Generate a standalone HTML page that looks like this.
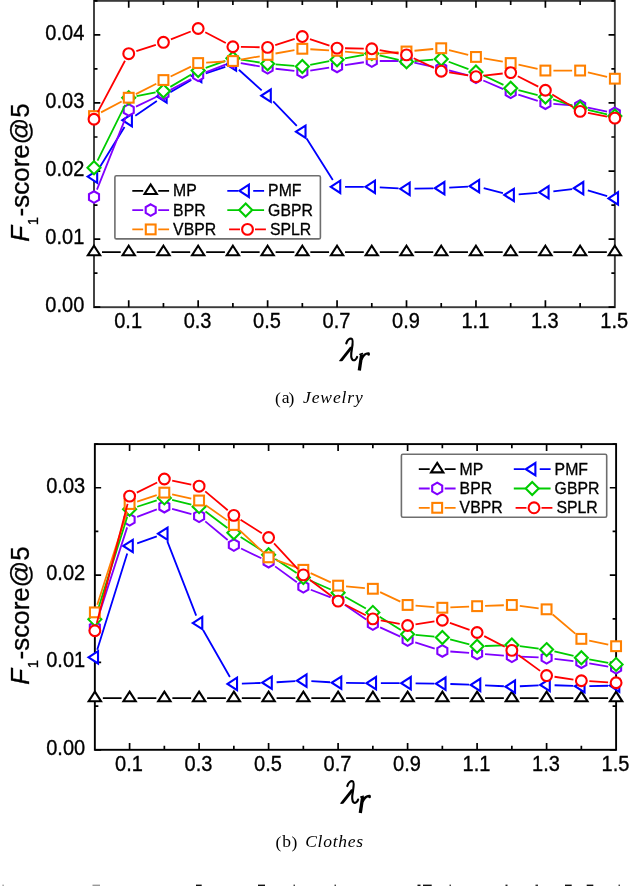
<!DOCTYPE html>
<html><head><meta charset="utf-8"><style>html,body{margin:0;padding:0;background:#fff;width:630px;height:886px;overflow:hidden}svg{display:block;will-change:transform}</style></head>
<body><svg width="630" height="886" viewBox="0 0 630 886">
<style>
.tl{font-family:"Liberation Sans", sans-serif;font-size:21.3px;fill:#000;stroke:#000;stroke-width:0.35px}
.lg{font-family:"Liberation Sans", sans-serif;font-size:15.8px;fill:#000;stroke:#000;stroke-width:0.3px}
.yt{font-family:"Liberation Sans", sans-serif;font-size:26px;fill:#000;stroke:#000;stroke-width:0.3px}
.lam{font-family:"Liberation Sans", sans-serif;font-size:32px;font-style:italic;fill:#000}
.lamr{font-family:"Liberation Sans", sans-serif;font-size:25px;font-style:italic;font-weight:bold;fill:#000}
.cap{font-family:"Liberation Serif", serif;font-size:17.5px;fill:#000}
</style>
<rect width="630" height="886" fill="#fff"/>
<rect x="94.00" y="0.85" width="520.85" height="306.35" fill="none" stroke="#3a3a3a" stroke-width="1.9"/>
<path d="M128.72 307.20V300.30M128.72 0.85V7.75M163.45 307.20V303.10M163.45 0.85V4.95M198.17 307.20V300.30M198.17 0.85V7.75M232.89 307.20V303.10M232.89 0.85V4.95M267.62 307.20V300.30M267.62 0.85V7.75M302.34 307.20V303.10M302.34 0.85V4.95M337.06 307.20V300.30M337.06 0.85V7.75M371.79 307.20V303.10M371.79 0.85V4.95M406.51 307.20V300.30M406.51 0.85V7.75M441.23 307.20V303.10M441.23 0.85V4.95M475.96 307.20V300.30M475.96 0.85V7.75M510.68 307.20V303.10M510.68 0.85V4.95M545.40 307.20V300.30M545.40 0.85V7.75M580.13 307.20V303.10M580.13 0.85V4.95M94.00 307.20H100.30M614.85 307.20H608.55M94.00 273.16H97.50M614.85 273.16H611.35M94.00 239.12H100.30M614.85 239.12H608.55M94.00 205.08H97.50M614.85 205.08H611.35M94.00 171.04H100.30M614.85 171.04H608.55M94.00 137.01H97.50M614.85 137.01H611.35M94.00 102.97H100.30M614.85 102.97H608.55M94.00 68.93H97.50M614.85 68.93H611.35M94.00 34.89H100.30M614.85 34.89H608.55M94.00 0.85H97.50M614.85 0.85H611.35" stroke="#000" stroke-width="1.7" fill="none"/>
<text transform="translate(84.30 312.20) scale(0.94 1)" text-anchor="end" class="tl">0.00</text>
<text transform="translate(84.30 244.12) scale(0.94 1)" text-anchor="end" class="tl">0.01</text>
<text transform="translate(84.30 176.04) scale(0.94 1)" text-anchor="end" class="tl">0.02</text>
<text transform="translate(84.30 107.97) scale(0.94 1)" text-anchor="end" class="tl">0.03</text>
<text transform="translate(84.30 39.89) scale(0.94 1)" text-anchor="end" class="tl">0.04</text>
<text transform="translate(128.12 327.90) scale(0.94 1)" text-anchor="middle" class="tl">0.1</text>
<text transform="translate(197.57 327.90) scale(0.94 1)" text-anchor="middle" class="tl">0.3</text>
<text transform="translate(267.02 327.90) scale(0.94 1)" text-anchor="middle" class="tl">0.5</text>
<text transform="translate(336.46 327.90) scale(0.94 1)" text-anchor="middle" class="tl">0.7</text>
<text transform="translate(405.91 327.90) scale(0.94 1)" text-anchor="middle" class="tl">0.9</text>
<text transform="translate(475.36 327.90) scale(0.94 1)" text-anchor="middle" class="tl">1.1</text>
<text transform="translate(544.80 327.90) scale(0.94 1)" text-anchor="middle" class="tl">1.3</text>
<text transform="translate(614.25 327.90) scale(0.94 1)" text-anchor="middle" class="tl">1.5</text>
<path d="M102.00 252.10L120.72 252.10M136.72 252.10L155.45 252.10M171.45 252.10L190.17 252.10M206.17 252.10L224.89 252.10M240.89 252.10L259.62 252.10M275.62 252.10L294.34 252.10M310.34 252.10L329.06 252.10M345.06 252.10L363.79 252.10M379.79 252.10L398.51 252.10M414.51 252.10L433.23 252.10M449.23 252.10L467.96 252.10M483.96 252.10L502.68 252.10M518.68 252.10L537.40 252.10M553.40 252.10L572.13 252.10M588.13 252.10L606.85 252.10" stroke="#000000" stroke-width="1.8" fill="none"/>
<path d="M94.00 245.75L100.15 255.28L87.85 255.28Z" stroke="#000000" stroke-width="2.1" fill="#fff" stroke-miterlimit="10"/>
<path d="M128.72 245.75L134.87 255.28L122.57 255.28Z" stroke="#000000" stroke-width="2.1" fill="#fff" stroke-miterlimit="10"/>
<path d="M163.45 245.75L169.60 255.28L157.30 255.28Z" stroke="#000000" stroke-width="2.1" fill="#fff" stroke-miterlimit="10"/>
<path d="M198.17 245.75L204.32 255.28L192.02 255.28Z" stroke="#000000" stroke-width="2.1" fill="#fff" stroke-miterlimit="10"/>
<path d="M232.89 245.75L239.04 255.28L226.74 255.28Z" stroke="#000000" stroke-width="2.1" fill="#fff" stroke-miterlimit="10"/>
<path d="M267.62 245.75L273.77 255.28L261.47 255.28Z" stroke="#000000" stroke-width="2.1" fill="#fff" stroke-miterlimit="10"/>
<path d="M302.34 245.75L308.49 255.28L296.19 255.28Z" stroke="#000000" stroke-width="2.1" fill="#fff" stroke-miterlimit="10"/>
<path d="M337.06 245.75L343.21 255.28L330.91 255.28Z" stroke="#000000" stroke-width="2.1" fill="#fff" stroke-miterlimit="10"/>
<path d="M371.79 245.75L377.94 255.28L365.64 255.28Z" stroke="#000000" stroke-width="2.1" fill="#fff" stroke-miterlimit="10"/>
<path d="M406.51 245.75L412.66 255.28L400.36 255.28Z" stroke="#000000" stroke-width="2.1" fill="#fff" stroke-miterlimit="10"/>
<path d="M441.23 245.75L447.38 255.28L435.08 255.28Z" stroke="#000000" stroke-width="2.1" fill="#fff" stroke-miterlimit="10"/>
<path d="M475.96 245.75L482.11 255.28L469.81 255.28Z" stroke="#000000" stroke-width="2.1" fill="#fff" stroke-miterlimit="10"/>
<path d="M510.68 245.75L516.83 255.28L504.53 255.28Z" stroke="#000000" stroke-width="2.1" fill="#fff" stroke-miterlimit="10"/>
<path d="M545.40 245.75L551.55 255.28L539.25 255.28Z" stroke="#000000" stroke-width="2.1" fill="#fff" stroke-miterlimit="10"/>
<path d="M580.13 245.75L586.28 255.28L573.98 255.28Z" stroke="#000000" stroke-width="2.1" fill="#fff" stroke-miterlimit="10"/>
<path d="M614.85 245.75L621.00 255.28L608.70 255.28Z" stroke="#000000" stroke-width="2.1" fill="#fff" stroke-miterlimit="10"/>
<path d="M98.19 169.81L124.53 126.99M135.32 115.66L156.85 100.90M170.34 92.33L191.27 80.03M205.76 73.45L225.30 66.95M238.84 69.77L261.67 90.35M273.17 101.46L296.79 125.98M306.61 138.51L332.80 180.05M345.06 186.82L363.79 186.82M379.77 187.29L398.52 188.39M414.51 188.70L433.23 188.34M449.22 187.71L467.97 186.61M483.71 188.11L502.93 193.01M518.66 194.36L537.43 192.88M553.35 191.33L572.18 189.11M587.80 190.43L607.17 196.13" stroke="#0000ff" stroke-width="1.8" fill="none"/>
<path d="M87.65 176.62L97.18 170.47L97.18 182.77Z" stroke="#0000ff" stroke-width="2.1" fill="#fff" stroke-miterlimit="10"/>
<path d="M122.37 120.18L131.90 114.03L131.90 126.33Z" stroke="#0000ff" stroke-width="2.1" fill="#fff" stroke-miterlimit="10"/>
<path d="M157.10 96.38L166.62 90.23L166.62 102.53Z" stroke="#0000ff" stroke-width="2.1" fill="#fff" stroke-miterlimit="10"/>
<path d="M191.82 75.98L201.35 69.83L201.35 82.13Z" stroke="#0000ff" stroke-width="2.1" fill="#fff" stroke-miterlimit="10"/>
<path d="M226.54 64.42L236.07 58.27L236.07 70.57Z" stroke="#0000ff" stroke-width="2.1" fill="#fff" stroke-miterlimit="10"/>
<path d="M261.27 95.70L270.79 89.55L270.79 101.85Z" stroke="#0000ff" stroke-width="2.1" fill="#fff" stroke-miterlimit="10"/>
<path d="M295.99 131.74L305.52 125.59L305.52 137.89Z" stroke="#0000ff" stroke-width="2.1" fill="#fff" stroke-miterlimit="10"/>
<path d="M330.71 186.82L340.24 180.67L340.24 192.97Z" stroke="#0000ff" stroke-width="2.1" fill="#fff" stroke-miterlimit="10"/>
<path d="M365.44 186.82L374.96 180.67L374.96 192.97Z" stroke="#0000ff" stroke-width="2.1" fill="#fff" stroke-miterlimit="10"/>
<path d="M400.16 188.86L409.69 182.71L409.69 195.01Z" stroke="#0000ff" stroke-width="2.1" fill="#fff" stroke-miterlimit="10"/>
<path d="M434.88 188.18L444.41 182.03L444.41 194.33Z" stroke="#0000ff" stroke-width="2.1" fill="#fff" stroke-miterlimit="10"/>
<path d="M469.61 186.14L479.13 179.99L479.13 192.29Z" stroke="#0000ff" stroke-width="2.1" fill="#fff" stroke-miterlimit="10"/>
<path d="M504.33 194.98L513.86 188.83L513.86 201.13Z" stroke="#0000ff" stroke-width="2.1" fill="#fff" stroke-miterlimit="10"/>
<path d="M539.05 192.26L548.58 186.11L548.58 198.41Z" stroke="#0000ff" stroke-width="2.1" fill="#fff" stroke-miterlimit="10"/>
<path d="M573.78 188.18L583.30 182.03L583.30 194.33Z" stroke="#0000ff" stroke-width="2.1" fill="#fff" stroke-miterlimit="10"/>
<path d="M608.50 198.38L618.03 192.23L618.03 204.53Z" stroke="#0000ff" stroke-width="2.1" fill="#fff" stroke-miterlimit="10"/>
<path d="M96.96 189.59L125.76 117.41M135.96 106.58L156.21 97.06M170.52 89.92L191.10 79.04M205.62 72.38L225.44 64.62M240.77 63.09L259.74 66.43M275.56 68.75L294.39 70.97M310.24 70.66L329.16 67.70M344.97 65.22L363.88 62.26M379.79 61.02L398.51 61.02M414.33 62.70L433.41 66.82M448.99 70.47L468.20 75.37M483.30 80.51L503.33 89.13M518.31 94.69L537.77 100.79M553.38 103.80L572.15 105.28M587.95 107.58L607.03 111.70" stroke="#8000ff" stroke-width="1.8" fill="none"/>
<path d="M94.00 191.22L99.02 194.12L99.02 199.92L94.00 202.82L88.98 199.92L88.98 194.12Z" stroke="#8000ff" stroke-width="2.1" fill="#fff" stroke-miterlimit="10"/>
<path d="M128.72 104.18L133.75 107.08L133.75 112.88L128.72 115.78L123.70 112.88L123.70 107.08Z" stroke="#8000ff" stroke-width="2.1" fill="#fff" stroke-miterlimit="10"/>
<path d="M163.45 87.86L168.47 90.76L168.47 96.56L163.45 99.46L158.42 96.56L158.42 90.76Z" stroke="#8000ff" stroke-width="2.1" fill="#fff" stroke-miterlimit="10"/>
<path d="M198.17 69.50L203.19 72.40L203.19 78.20L198.17 81.10L193.15 78.20L193.15 72.40Z" stroke="#8000ff" stroke-width="2.1" fill="#fff" stroke-miterlimit="10"/>
<path d="M232.89 55.90L237.92 58.80L237.92 64.60L232.89 67.50L227.87 64.60L227.87 58.80Z" stroke="#8000ff" stroke-width="2.1" fill="#fff" stroke-miterlimit="10"/>
<path d="M267.62 62.02L272.64 64.92L272.64 70.72L267.62 73.62L262.59 70.72L262.59 64.92Z" stroke="#8000ff" stroke-width="2.1" fill="#fff" stroke-miterlimit="10"/>
<path d="M302.34 66.10L307.36 69.00L307.36 74.80L302.34 77.70L297.32 74.80L297.32 69.00Z" stroke="#8000ff" stroke-width="2.1" fill="#fff" stroke-miterlimit="10"/>
<path d="M337.06 60.66L342.09 63.56L342.09 69.36L337.06 72.26L332.04 69.36L332.04 63.56Z" stroke="#8000ff" stroke-width="2.1" fill="#fff" stroke-miterlimit="10"/>
<path d="M371.79 55.22L376.81 58.12L376.81 63.92L371.79 66.82L366.76 63.92L366.76 58.12Z" stroke="#8000ff" stroke-width="2.1" fill="#fff" stroke-miterlimit="10"/>
<path d="M406.51 55.22L411.53 58.12L411.53 63.92L406.51 66.82L401.49 63.92L401.49 58.12Z" stroke="#8000ff" stroke-width="2.1" fill="#fff" stroke-miterlimit="10"/>
<path d="M441.23 62.70L446.26 65.60L446.26 71.40L441.23 74.30L436.21 71.40L436.21 65.60Z" stroke="#8000ff" stroke-width="2.1" fill="#fff" stroke-miterlimit="10"/>
<path d="M475.96 71.54L480.98 74.44L480.98 80.24L475.96 83.14L470.93 80.24L470.93 74.44Z" stroke="#8000ff" stroke-width="2.1" fill="#fff" stroke-miterlimit="10"/>
<path d="M510.68 86.50L515.70 89.40L515.70 95.20L510.68 98.10L505.66 95.20L505.66 89.40Z" stroke="#8000ff" stroke-width="2.1" fill="#fff" stroke-miterlimit="10"/>
<path d="M545.40 97.38L550.43 100.28L550.43 106.08L545.40 108.98L540.38 106.08L540.38 100.28Z" stroke="#8000ff" stroke-width="2.1" fill="#fff" stroke-miterlimit="10"/>
<path d="M580.13 100.10L585.15 103.00L585.15 108.80L580.13 111.70L575.10 108.80L575.10 103.00Z" stroke="#8000ff" stroke-width="2.1" fill="#fff" stroke-miterlimit="10"/>
<path d="M614.85 107.58L619.87 110.48L619.87 116.28L614.85 119.18L609.83 116.28L609.83 110.48Z" stroke="#8000ff" stroke-width="2.1" fill="#fff" stroke-miterlimit="10"/>
<path d="M97.55 160.61L125.17 104.91M136.57 96.20L155.60 92.48M170.34 86.89L191.27 74.59M205.71 67.88L225.35 60.96M240.80 59.54L259.71 62.50M275.59 64.36L294.36 65.84M310.19 64.92L329.21 61.20M344.94 58.27L363.91 54.93M379.57 55.37L398.72 59.87M414.49 61.08L433.26 59.60M448.73 61.77L468.46 69.11M483.20 75.30L503.44 84.82M518.43 90.19L537.65 95.09M553.04 99.45L572.49 105.55M587.91 109.77L607.06 114.27" stroke="#00cc00" stroke-width="1.8" fill="none"/>
<path d="M94.00 161.28L100.50 167.78L94.00 174.28L87.50 167.78Z" stroke="#00cc00" stroke-width="2.1" fill="#fff" stroke-miterlimit="10"/>
<path d="M128.72 91.24L135.22 97.74L128.72 104.24L122.22 97.74Z" stroke="#00cc00" stroke-width="2.1" fill="#fff" stroke-miterlimit="10"/>
<path d="M163.45 84.44L169.95 90.94L163.45 97.44L156.95 90.94Z" stroke="#00cc00" stroke-width="2.1" fill="#fff" stroke-miterlimit="10"/>
<path d="M198.17 64.04L204.67 70.54L198.17 77.04L191.67 70.54Z" stroke="#00cc00" stroke-width="2.1" fill="#fff" stroke-miterlimit="10"/>
<path d="M232.89 51.80L239.39 58.30L232.89 64.80L226.39 58.30Z" stroke="#00cc00" stroke-width="2.1" fill="#fff" stroke-miterlimit="10"/>
<path d="M267.62 57.24L274.12 63.74L267.62 70.24L261.12 63.74Z" stroke="#00cc00" stroke-width="2.1" fill="#fff" stroke-miterlimit="10"/>
<path d="M302.34 59.96L308.84 66.46L302.34 72.96L295.84 66.46Z" stroke="#00cc00" stroke-width="2.1" fill="#fff" stroke-miterlimit="10"/>
<path d="M337.06 53.16L343.56 59.66L337.06 66.16L330.56 59.66Z" stroke="#00cc00" stroke-width="2.1" fill="#fff" stroke-miterlimit="10"/>
<path d="M371.79 47.04L378.29 53.54L371.79 60.04L365.29 53.54Z" stroke="#00cc00" stroke-width="2.1" fill="#fff" stroke-miterlimit="10"/>
<path d="M406.51 55.20L413.01 61.70L406.51 68.20L400.01 61.70Z" stroke="#00cc00" stroke-width="2.1" fill="#fff" stroke-miterlimit="10"/>
<path d="M441.23 52.48L447.73 58.98L441.23 65.48L434.73 58.98Z" stroke="#00cc00" stroke-width="2.1" fill="#fff" stroke-miterlimit="10"/>
<path d="M475.96 65.40L482.46 71.90L475.96 78.40L469.46 71.90Z" stroke="#00cc00" stroke-width="2.1" fill="#fff" stroke-miterlimit="10"/>
<path d="M510.68 81.72L517.18 88.22L510.68 94.72L504.18 88.22Z" stroke="#00cc00" stroke-width="2.1" fill="#fff" stroke-miterlimit="10"/>
<path d="M545.40 90.56L551.90 97.06L545.40 103.56L538.90 97.06Z" stroke="#00cc00" stroke-width="2.1" fill="#fff" stroke-miterlimit="10"/>
<path d="M580.13 101.44L586.63 107.94L580.13 114.44L573.63 107.94Z" stroke="#00cc00" stroke-width="2.1" fill="#fff" stroke-miterlimit="10"/>
<path d="M614.85 109.60L621.35 116.10L614.85 122.60L608.35 116.10Z" stroke="#00cc00" stroke-width="2.1" fill="#fff" stroke-miterlimit="10"/>
<path d="M101.07 112.36L121.65 101.48M135.85 94.11L156.32 83.69M170.63 76.54L190.98 66.58M206.16 62.59L224.91 61.49M240.77 59.63L259.74 56.29M275.50 53.51L294.46 50.17M310.33 49.25L329.08 50.35M345.03 51.60L363.82 53.44M379.76 53.60L398.53 52.12M414.47 50.75L433.27 48.98M448.99 50.18L468.20 54.99M483.84 58.33L502.80 61.67M518.50 64.74L537.58 68.86M553.40 70.54L572.13 70.54M587.91 72.37L607.06 76.87" stroke="#ff8000" stroke-width="1.8" fill="none"/>
<rect x="89.10" y="111.20" width="9.80" height="9.80" stroke="#ff8000" stroke-width="2.1" fill="#fff" stroke-miterlimit="10"/>
<rect x="123.82" y="92.84" width="9.80" height="9.80" stroke="#ff8000" stroke-width="2.1" fill="#fff" stroke-miterlimit="10"/>
<rect x="158.55" y="75.16" width="9.80" height="9.80" stroke="#ff8000" stroke-width="2.1" fill="#fff" stroke-miterlimit="10"/>
<rect x="193.27" y="58.16" width="9.80" height="9.80" stroke="#ff8000" stroke-width="2.1" fill="#fff" stroke-miterlimit="10"/>
<rect x="227.99" y="56.12" width="9.80" height="9.80" stroke="#ff8000" stroke-width="2.1" fill="#fff" stroke-miterlimit="10"/>
<rect x="262.72" y="50.00" width="9.80" height="9.80" stroke="#ff8000" stroke-width="2.1" fill="#fff" stroke-miterlimit="10"/>
<rect x="297.44" y="43.88" width="9.80" height="9.80" stroke="#ff8000" stroke-width="2.1" fill="#fff" stroke-miterlimit="10"/>
<rect x="332.16" y="45.92" width="9.80" height="9.80" stroke="#ff8000" stroke-width="2.1" fill="#fff" stroke-miterlimit="10"/>
<rect x="366.89" y="49.32" width="9.80" height="9.80" stroke="#ff8000" stroke-width="2.1" fill="#fff" stroke-miterlimit="10"/>
<rect x="401.61" y="46.60" width="9.80" height="9.80" stroke="#ff8000" stroke-width="2.1" fill="#fff" stroke-miterlimit="10"/>
<rect x="436.33" y="43.34" width="9.80" height="9.80" stroke="#ff8000" stroke-width="2.1" fill="#fff" stroke-miterlimit="10"/>
<rect x="471.06" y="52.04" width="9.80" height="9.80" stroke="#ff8000" stroke-width="2.1" fill="#fff" stroke-miterlimit="10"/>
<rect x="505.78" y="58.16" width="9.80" height="9.80" stroke="#ff8000" stroke-width="2.1" fill="#fff" stroke-miterlimit="10"/>
<rect x="540.50" y="65.64" width="9.80" height="9.80" stroke="#ff8000" stroke-width="2.1" fill="#fff" stroke-miterlimit="10"/>
<rect x="575.23" y="65.64" width="9.80" height="9.80" stroke="#ff8000" stroke-width="2.1" fill="#fff" stroke-miterlimit="10"/>
<rect x="609.95" y="73.80" width="9.80" height="9.80" stroke="#ff8000" stroke-width="2.1" fill="#fff" stroke-miterlimit="10"/>
<path d="M97.74 112.16L124.98 60.75M136.33 51.19L155.84 44.81M170.88 39.36L190.74 31.47M205.25 32.23L225.81 43.02M240.89 46.90L259.62 47.26M275.25 45.03L294.71 38.93M309.93 39.07L329.47 45.57M345.06 48.26L363.79 48.62M379.67 50.17L398.63 53.51M413.75 58.30L433.99 67.82M449.14 72.46L468.05 75.42M483.90 75.73L502.73 73.51M517.81 76.21L538.27 86.63M552.24 94.41L573.29 107.19M587.98 112.88L607.00 116.60" stroke="#ff0000" stroke-width="1.8" fill="none"/>
<circle cx="94.00" cy="119.23" r="5.4" stroke="#ff0000" stroke-width="2.1" fill="#fff" stroke-miterlimit="10"/>
<circle cx="128.72" cy="53.68" r="5.4" stroke="#ff0000" stroke-width="2.1" fill="#fff" stroke-miterlimit="10"/>
<circle cx="163.45" cy="42.32" r="5.4" stroke="#ff0000" stroke-width="2.1" fill="#fff" stroke-miterlimit="10"/>
<circle cx="198.17" cy="28.52" r="5.4" stroke="#ff0000" stroke-width="2.1" fill="#fff" stroke-miterlimit="10"/>
<circle cx="232.89" cy="46.74" r="5.4" stroke="#ff0000" stroke-width="2.1" fill="#fff" stroke-miterlimit="10"/>
<circle cx="267.62" cy="47.42" r="5.4" stroke="#ff0000" stroke-width="2.1" fill="#fff" stroke-miterlimit="10"/>
<circle cx="302.34" cy="36.54" r="5.4" stroke="#ff0000" stroke-width="2.1" fill="#fff" stroke-miterlimit="10"/>
<circle cx="337.06" cy="48.10" r="5.4" stroke="#ff0000" stroke-width="2.1" fill="#fff" stroke-miterlimit="10"/>
<circle cx="371.79" cy="48.78" r="5.4" stroke="#ff0000" stroke-width="2.1" fill="#fff" stroke-miterlimit="10"/>
<circle cx="406.51" cy="54.90" r="5.4" stroke="#ff0000" stroke-width="2.1" fill="#fff" stroke-miterlimit="10"/>
<circle cx="441.23" cy="71.22" r="5.4" stroke="#ff0000" stroke-width="2.1" fill="#fff" stroke-miterlimit="10"/>
<circle cx="475.96" cy="76.66" r="5.4" stroke="#ff0000" stroke-width="2.1" fill="#fff" stroke-miterlimit="10"/>
<circle cx="510.68" cy="72.58" r="5.4" stroke="#ff0000" stroke-width="2.1" fill="#fff" stroke-miterlimit="10"/>
<circle cx="545.40" cy="90.26" r="5.4" stroke="#ff0000" stroke-width="2.1" fill="#fff" stroke-miterlimit="10"/>
<circle cx="580.13" cy="111.34" r="5.4" stroke="#ff0000" stroke-width="2.1" fill="#fff" stroke-miterlimit="10"/>
<circle cx="614.85" cy="118.14" r="5.4" stroke="#ff0000" stroke-width="2.1" fill="#fff" stroke-miterlimit="10"/>
<rect x="114.90" y="175.80" width="205.50" height="63.10" rx="1.5" fill="#fff" stroke="#6e6e6e" stroke-width="1.6"/>
<path d="M132.30 190.80H143.20M158.20 190.80H169.10" stroke="#000000" stroke-width="1.8" fill="none"/>
<path d="M150.70 184.45L156.85 193.98L144.55 193.98Z" stroke="#000000" stroke-width="2.1" fill="#fff" stroke-miterlimit="10"/>
<text x="173.10" y="196.30" class="lg">MP</text>
<path d="M227.30 190.80H238.20M253.20 190.80H264.10" stroke="#0000ff" stroke-width="1.8" fill="none"/>
<path d="M239.35 190.80L248.88 184.65L248.88 196.95Z" stroke="#0000ff" stroke-width="2.1" fill="#fff" stroke-miterlimit="10"/>
<text x="268.10" y="196.30" class="lg">PMF</text>
<path d="M132.30 210.10H143.20M158.20 210.10H169.10" stroke="#8000ff" stroke-width="1.8" fill="none"/>
<path d="M150.70 204.30L155.72 207.20L155.72 213.00L150.70 215.90L145.68 213.00L145.68 207.20Z" stroke="#8000ff" stroke-width="2.1" fill="#fff" stroke-miterlimit="10"/>
<text x="173.10" y="215.60" class="lg">BPR</text>
<path d="M227.30 210.10H239.10M252.30 210.10H264.10" stroke="#00cc00" stroke-width="1.8" fill="none"/>
<path d="M245.70 203.60L252.20 210.10L245.70 216.60L239.20 210.10Z" stroke="#00cc00" stroke-width="2.1" fill="#fff" stroke-miterlimit="10"/>
<text x="268.10" y="215.60" class="lg">GBPR</text>
<path d="M132.30 229.40H143.20M158.20 229.40H169.10" stroke="#ff8000" stroke-width="1.8" fill="none"/>
<rect x="145.80" y="224.50" width="9.80" height="9.80" stroke="#ff8000" stroke-width="2.1" fill="#fff" stroke-miterlimit="10"/>
<text x="173.10" y="234.90" class="lg">VBPR</text>
<path d="M229.10 229.40H240.00M255.00 229.40H265.90" stroke="#ff0000" stroke-width="1.8" fill="none"/>
<circle cx="247.50" cy="229.40" r="5.4" stroke="#ff0000" stroke-width="2.1" fill="#fff" stroke-miterlimit="10"/>
<text x="269.90" y="234.90" class="lg">SPLR</text>
<text transform="translate(29 172.50) rotate(-90)" text-anchor="middle" class="yt"><tspan font-style="italic">F</tspan><tspan font-size="15" dy="9.3" dx="0.6">1</tspan><tspan dy="-9.3" dx="0.4">-score@5</tspan></text>
<g transform="translate(0.00 0.80)" fill="none" stroke="#000" stroke-linecap="round"><path d="M346.3 342.6C347.3 339.3 349.6 337.4 351.6 337.9C353.6 338.6 352.6 344 351.8 348.5C351 353 350.8 357.6 352.6 359C354.2 360.2 356.2 358.8 357.1 356.2" stroke-width="2.2"/><path d="M350.3 345.7L352.5 347.5L342.5 360.2C341.3 360.6 340 360.6 338.9 360.1Z" fill="#000" stroke="none"/><path d="M361.7 353.4L359.3 369.6" stroke-width="3.3" stroke-linecap="butt"/><path d="M361.8 358C363.5 354 365.8 352.4 368.6 352.6" stroke-width="2.3"/><circle cx="368.6" cy="353.6" r="1.3" fill="#000" stroke="none"/><path d="M359.8 353.6L362.5 352.7" stroke-width="1.4"/></g>
<rect x="94.85" y="444.10" width="521.25" height="305.70" fill="none" stroke="#000" stroke-width="1.9"/>
<path d="M129.60 749.80V742.90M129.60 444.10V451.00M164.35 749.80V745.70M164.35 444.10V448.20M199.10 749.80V742.90M199.10 444.10V451.00M233.85 749.80V745.70M233.85 444.10V448.20M268.60 749.80V742.90M268.60 444.10V451.00M303.35 749.80V745.70M303.35 444.10V448.20M338.10 749.80V742.90M338.10 444.10V451.00M372.85 749.80V745.70M372.85 444.10V448.20M407.60 749.80V742.90M407.60 444.10V451.00M442.35 749.80V745.70M442.35 444.10V448.20M477.10 749.80V742.90M477.10 444.10V451.00M511.85 749.80V745.70M511.85 444.10V448.20M546.60 749.80V742.90M546.60 444.10V451.00M581.35 749.80V745.70M581.35 444.10V448.20M94.85 749.80H101.15M616.10 749.80H609.80M94.85 706.13H98.35M616.10 706.13H612.60M94.85 662.46H101.15M616.10 662.46H609.80M94.85 618.79H98.35M616.10 618.79H612.60M94.85 575.11H101.15M616.10 575.11H609.80M94.85 531.44H98.35M616.10 531.44H612.60M94.85 487.77H101.15M616.10 487.77H609.80M94.85 444.10H98.35M616.10 444.10H612.60" stroke="#000" stroke-width="1.7" fill="none"/>
<text transform="translate(85.15 754.80) scale(0.94 1)" text-anchor="end" class="tl">0.00</text>
<text transform="translate(85.15 667.46) scale(0.94 1)" text-anchor="end" class="tl">0.01</text>
<text transform="translate(85.15 580.11) scale(0.94 1)" text-anchor="end" class="tl">0.02</text>
<text transform="translate(85.15 492.77) scale(0.94 1)" text-anchor="end" class="tl">0.03</text>
<text transform="translate(129.00 771.10) scale(0.94 1)" text-anchor="middle" class="tl">0.1</text>
<text transform="translate(198.50 771.10) scale(0.94 1)" text-anchor="middle" class="tl">0.3</text>
<text transform="translate(268.00 771.10) scale(0.94 1)" text-anchor="middle" class="tl">0.5</text>
<text transform="translate(337.50 771.10) scale(0.94 1)" text-anchor="middle" class="tl">0.7</text>
<text transform="translate(407.00 771.10) scale(0.94 1)" text-anchor="middle" class="tl">0.9</text>
<text transform="translate(476.50 771.10) scale(0.94 1)" text-anchor="middle" class="tl">1.1</text>
<text transform="translate(546.00 771.10) scale(0.94 1)" text-anchor="middle" class="tl">1.3</text>
<text transform="translate(615.50 771.10) scale(0.94 1)" text-anchor="middle" class="tl">1.5</text>
<path d="M102.85 698.03L121.60 698.03M137.60 698.03L156.35 698.03M172.35 698.03L191.10 698.03M207.10 698.03L225.85 698.03M241.85 698.03L260.60 698.03M276.60 698.03L295.35 698.03M311.35 698.03L330.10 698.03M346.10 698.03L364.85 698.03M380.85 698.03L399.60 698.03M415.60 698.03L434.35 698.03M450.35 698.03L469.10 698.03M485.10 698.03L503.85 698.03M519.85 698.03L538.60 698.03M554.60 698.03L573.35 698.03M589.35 698.03L608.10 698.03" stroke="#000000" stroke-width="1.8" fill="none"/>
<path d="M94.85 691.68L101.00 701.21L88.70 701.21Z" stroke="#000000" stroke-width="2.1" fill="#fff" stroke-miterlimit="10"/>
<path d="M129.60 691.68L135.75 701.21L123.45 701.21Z" stroke="#000000" stroke-width="2.1" fill="#fff" stroke-miterlimit="10"/>
<path d="M164.35 691.68L170.50 701.21L158.20 701.21Z" stroke="#000000" stroke-width="2.1" fill="#fff" stroke-miterlimit="10"/>
<path d="M199.10 691.68L205.25 701.21L192.95 701.21Z" stroke="#000000" stroke-width="2.1" fill="#fff" stroke-miterlimit="10"/>
<path d="M233.85 691.68L240.00 701.21L227.70 701.21Z" stroke="#000000" stroke-width="2.1" fill="#fff" stroke-miterlimit="10"/>
<path d="M268.60 691.68L274.75 701.21L262.45 701.21Z" stroke="#000000" stroke-width="2.1" fill="#fff" stroke-miterlimit="10"/>
<path d="M303.35 691.68L309.50 701.21L297.20 701.21Z" stroke="#000000" stroke-width="2.1" fill="#fff" stroke-miterlimit="10"/>
<path d="M338.10 691.68L344.25 701.21L331.95 701.21Z" stroke="#000000" stroke-width="2.1" fill="#fff" stroke-miterlimit="10"/>
<path d="M372.85 691.68L379.00 701.21L366.70 701.21Z" stroke="#000000" stroke-width="2.1" fill="#fff" stroke-miterlimit="10"/>
<path d="M407.60 691.68L413.75 701.21L401.45 701.21Z" stroke="#000000" stroke-width="2.1" fill="#fff" stroke-miterlimit="10"/>
<path d="M442.35 691.68L448.50 701.21L436.20 701.21Z" stroke="#000000" stroke-width="2.1" fill="#fff" stroke-miterlimit="10"/>
<path d="M477.10 691.68L483.25 701.21L470.95 701.21Z" stroke="#000000" stroke-width="2.1" fill="#fff" stroke-miterlimit="10"/>
<path d="M511.85 691.68L518.00 701.21L505.70 701.21Z" stroke="#000000" stroke-width="2.1" fill="#fff" stroke-miterlimit="10"/>
<path d="M546.60 691.68L552.75 701.21L540.45 701.21Z" stroke="#000000" stroke-width="2.1" fill="#fff" stroke-miterlimit="10"/>
<path d="M581.35 691.68L587.50 701.21L575.20 701.21Z" stroke="#000000" stroke-width="2.1" fill="#fff" stroke-miterlimit="10"/>
<path d="M616.10 691.68L622.25 701.21L609.95 701.21Z" stroke="#000000" stroke-width="2.1" fill="#fff" stroke-miterlimit="10"/>
<path d="M97.23 649.67L127.22 553.59M137.15 543.30L156.80 536.38M167.25 541.18L196.20 615.59M203.07 629.99L229.88 676.93M241.85 683.61L260.60 683.00M276.59 682.26L295.36 681.12M311.34 681.12L330.11 682.26M346.10 682.84L364.85 683.08M380.85 683.18L399.60 683.18M415.60 683.30L434.35 683.58M450.35 683.98L469.10 684.64M485.09 685.33L503.86 686.27M519.84 686.27L538.61 685.33M554.59 685.23L573.36 685.93M589.35 686.09L608.10 685.76" stroke="#0000ff" stroke-width="1.8" fill="none"/>
<path d="M88.50 657.31L98.03 651.16L98.03 663.46Z" stroke="#0000ff" stroke-width="2.1" fill="#fff" stroke-miterlimit="10"/>
<path d="M123.25 545.96L132.78 539.81L132.78 552.11Z" stroke="#0000ff" stroke-width="2.1" fill="#fff" stroke-miterlimit="10"/>
<path d="M158.00 533.72L167.53 527.57L167.53 539.87Z" stroke="#0000ff" stroke-width="2.1" fill="#fff" stroke-miterlimit="10"/>
<path d="M192.75 623.04L202.28 616.89L202.28 629.19Z" stroke="#0000ff" stroke-width="2.1" fill="#fff" stroke-miterlimit="10"/>
<path d="M227.50 683.88L237.03 677.73L237.03 690.03Z" stroke="#0000ff" stroke-width="2.1" fill="#fff" stroke-miterlimit="10"/>
<path d="M262.25 682.74L271.78 676.59L271.78 688.89Z" stroke="#0000ff" stroke-width="2.1" fill="#fff" stroke-miterlimit="10"/>
<path d="M297.00 680.64L306.53 674.49L306.53 686.79Z" stroke="#0000ff" stroke-width="2.1" fill="#fff" stroke-miterlimit="10"/>
<path d="M331.75 682.74L341.28 676.59L341.28 688.89Z" stroke="#0000ff" stroke-width="2.1" fill="#fff" stroke-miterlimit="10"/>
<path d="M366.50 683.18L376.03 677.03L376.03 689.33Z" stroke="#0000ff" stroke-width="2.1" fill="#fff" stroke-miterlimit="10"/>
<path d="M401.25 683.18L410.78 677.03L410.78 689.33Z" stroke="#0000ff" stroke-width="2.1" fill="#fff" stroke-miterlimit="10"/>
<path d="M436.00 683.70L445.53 677.55L445.53 689.85Z" stroke="#0000ff" stroke-width="2.1" fill="#fff" stroke-miterlimit="10"/>
<path d="M470.75 684.92L480.28 678.77L480.28 691.07Z" stroke="#0000ff" stroke-width="2.1" fill="#fff" stroke-miterlimit="10"/>
<path d="M505.50 686.67L515.03 680.52L515.03 692.82Z" stroke="#0000ff" stroke-width="2.1" fill="#fff" stroke-miterlimit="10"/>
<path d="M540.25 684.92L549.78 678.77L549.78 691.07Z" stroke="#0000ff" stroke-width="2.1" fill="#fff" stroke-miterlimit="10"/>
<path d="M575.00 686.24L584.53 680.09L584.53 692.38Z" stroke="#0000ff" stroke-width="2.1" fill="#fff" stroke-miterlimit="10"/>
<path d="M609.75 685.62L619.28 679.47L619.28 691.77Z" stroke="#0000ff" stroke-width="2.1" fill="#fff" stroke-miterlimit="10"/>
<path d="M97.30 619.98L127.15 527.35M137.09 516.91L156.86 509.45M172.06 508.76L191.39 514.11M205.26 521.35L227.69 539.97M241.07 548.53L261.38 558.24M275.08 566.38L296.87 582.17M310.81 589.75L330.64 597.43M344.71 604.83L366.24 619.50M380.12 627.35L400.33 636.66M415.23 642.40L434.72 648.53M450.33 651.51L469.12 652.88M485.07 654.10L503.88 655.62M519.84 656.62L538.61 657.47M554.54 658.83L573.41 661.20M589.25 663.47L608.20 666.52" stroke="#8000ff" stroke-width="1.8" fill="none"/>
<path d="M94.85 621.79L99.87 624.69L99.87 630.49L94.85 633.39L89.83 630.49L89.83 624.69Z" stroke="#8000ff" stroke-width="2.1" fill="#fff" stroke-miterlimit="10"/>
<path d="M129.60 513.94L134.62 516.84L134.62 522.64L129.60 525.54L124.58 522.64L124.58 516.84Z" stroke="#8000ff" stroke-width="2.1" fill="#fff" stroke-miterlimit="10"/>
<path d="M164.35 500.83L169.37 503.73L169.37 509.53L164.35 512.43L159.33 509.53L159.33 503.73Z" stroke="#8000ff" stroke-width="2.1" fill="#fff" stroke-miterlimit="10"/>
<path d="M199.10 510.44L204.12 513.34L204.12 519.14L199.10 522.04L194.08 519.14L194.08 513.34Z" stroke="#8000ff" stroke-width="2.1" fill="#fff" stroke-miterlimit="10"/>
<path d="M233.85 539.28L238.87 542.18L238.87 547.98L233.85 550.88L228.83 547.98L228.83 542.18Z" stroke="#8000ff" stroke-width="2.1" fill="#fff" stroke-miterlimit="10"/>
<path d="M268.60 555.89L273.62 558.79L273.62 564.59L268.60 567.49L263.58 564.59L263.58 558.79Z" stroke="#8000ff" stroke-width="2.1" fill="#fff" stroke-miterlimit="10"/>
<path d="M303.35 581.06L308.37 583.96L308.37 589.76L303.35 592.66L298.33 589.76L298.33 583.96Z" stroke="#8000ff" stroke-width="2.1" fill="#fff" stroke-miterlimit="10"/>
<path d="M338.10 594.52L343.12 597.42L343.12 603.22L338.10 606.12L333.08 603.22L333.08 597.42Z" stroke="#8000ff" stroke-width="2.1" fill="#fff" stroke-miterlimit="10"/>
<path d="M372.85 618.21L377.87 621.11L377.87 626.91L372.85 629.81L367.83 626.91L367.83 621.11Z" stroke="#8000ff" stroke-width="2.1" fill="#fff" stroke-miterlimit="10"/>
<path d="M407.60 634.20L412.62 637.10L412.62 642.90L407.60 645.80L402.58 642.90L402.58 637.10Z" stroke="#8000ff" stroke-width="2.1" fill="#fff" stroke-miterlimit="10"/>
<path d="M442.35 645.13L447.37 648.03L447.37 653.83L442.35 656.73L437.33 653.83L437.33 648.03Z" stroke="#8000ff" stroke-width="2.1" fill="#fff" stroke-miterlimit="10"/>
<path d="M477.10 647.66L482.12 650.56L482.12 656.36L477.10 659.26L472.08 656.36L472.08 650.56Z" stroke="#8000ff" stroke-width="2.1" fill="#fff" stroke-miterlimit="10"/>
<path d="M511.85 650.46L516.87 653.36L516.87 659.16L511.85 662.06L506.83 659.16L506.83 653.36Z" stroke="#8000ff" stroke-width="2.1" fill="#fff" stroke-miterlimit="10"/>
<path d="M546.60 652.03L551.62 654.93L551.62 660.73L546.60 663.63L541.58 660.73L541.58 654.93Z" stroke="#8000ff" stroke-width="2.1" fill="#fff" stroke-miterlimit="10"/>
<path d="M581.35 656.40L586.37 659.30L586.37 665.10L581.35 668.00L576.33 665.10L576.33 659.30Z" stroke="#8000ff" stroke-width="2.1" fill="#fff" stroke-miterlimit="10"/>
<path d="M616.10 661.99L621.12 664.89L621.12 670.69L616.10 673.59L611.08 670.69L611.08 664.89Z" stroke="#8000ff" stroke-width="2.1" fill="#fff" stroke-miterlimit="10"/>
<path d="M97.26 611.74L127.19 516.88M137.20 506.76L156.75 500.37M172.11 499.84L191.34 504.68M205.49 511.45L227.46 528.03M240.62 537.11L261.83 550.44M275.29 559.09L296.66 573.12M310.68 580.72L330.77 589.51M345.06 596.66L365.89 608.44M379.62 616.64L400.83 629.97M415.57 634.97L434.38 636.72M450.10 639.44L469.35 644.32M485.09 645.99L503.86 645.28M519.78 646.04L538.67 648.56M554.39 651.46L573.56 655.99M589.21 659.31L608.24 662.90" stroke="#00cc00" stroke-width="1.8" fill="none"/>
<path d="M94.85 612.87L101.35 619.37L94.85 625.87L88.35 619.37Z" stroke="#00cc00" stroke-width="2.1" fill="#fff" stroke-miterlimit="10"/>
<path d="M129.60 502.75L136.10 509.25L129.60 515.75L123.10 509.25Z" stroke="#00cc00" stroke-width="2.1" fill="#fff" stroke-miterlimit="10"/>
<path d="M164.35 491.39L170.85 497.89L164.35 504.39L157.85 497.89Z" stroke="#00cc00" stroke-width="2.1" fill="#fff" stroke-miterlimit="10"/>
<path d="M199.10 500.13L205.60 506.63L199.10 513.13L192.60 506.63Z" stroke="#00cc00" stroke-width="2.1" fill="#fff" stroke-miterlimit="10"/>
<path d="M233.85 526.35L240.35 532.85L233.85 539.35L227.35 532.85Z" stroke="#00cc00" stroke-width="2.1" fill="#fff" stroke-miterlimit="10"/>
<path d="M268.60 548.20L275.10 554.70L268.60 561.20L262.10 554.70Z" stroke="#00cc00" stroke-width="2.1" fill="#fff" stroke-miterlimit="10"/>
<path d="M303.35 571.01L309.85 577.51L303.35 584.01L296.85 577.51Z" stroke="#00cc00" stroke-width="2.1" fill="#fff" stroke-miterlimit="10"/>
<path d="M338.10 586.22L344.60 592.72L338.10 599.22L331.60 592.72Z" stroke="#00cc00" stroke-width="2.1" fill="#fff" stroke-miterlimit="10"/>
<path d="M372.85 605.88L379.35 612.38L372.85 618.88L366.35 612.38Z" stroke="#00cc00" stroke-width="2.1" fill="#fff" stroke-miterlimit="10"/>
<path d="M407.60 627.73L414.10 634.23L407.60 640.73L401.10 634.23Z" stroke="#00cc00" stroke-width="2.1" fill="#fff" stroke-miterlimit="10"/>
<path d="M442.35 630.97L448.85 637.47L442.35 643.97L435.85 637.47Z" stroke="#00cc00" stroke-width="2.1" fill="#fff" stroke-miterlimit="10"/>
<path d="M477.10 639.79L483.60 646.29L477.10 652.79L470.60 646.29Z" stroke="#00cc00" stroke-width="2.1" fill="#fff" stroke-miterlimit="10"/>
<path d="M511.85 638.48L518.35 644.98L511.85 651.48L505.35 644.98Z" stroke="#00cc00" stroke-width="2.1" fill="#fff" stroke-miterlimit="10"/>
<path d="M546.60 643.11L553.10 649.61L546.60 656.11L540.10 649.61Z" stroke="#00cc00" stroke-width="2.1" fill="#fff" stroke-miterlimit="10"/>
<path d="M581.35 651.33L587.85 657.83L581.35 664.33L574.85 657.83Z" stroke="#00cc00" stroke-width="2.1" fill="#fff" stroke-miterlimit="10"/>
<path d="M616.10 657.88L622.60 664.38L616.10 670.88L609.60 664.38Z" stroke="#00cc00" stroke-width="2.1" fill="#fff" stroke-miterlimit="10"/>
<path d="M97.29 604.76L127.16 511.62M137.20 501.52L156.75 495.13M172.15 494.41L191.30 498.74M205.64 505.12L227.31 520.38M239.71 530.43L262.74 551.87M276.13 560.03L295.82 567.11M310.63 573.13L330.82 582.32M346.07 586.36L364.88 588.06M380.10 592.16L400.35 601.58M415.57 605.59L434.38 607.11M450.34 607.39L469.11 606.54M485.10 605.90L503.85 605.23M519.79 605.95L538.66 608.32M552.70 614.50L575.25 633.68M589.18 640.52L608.27 644.55" stroke="#ff8000" stroke-width="1.8" fill="none"/>
<rect x="89.95" y="607.48" width="9.80" height="9.80" stroke="#ff8000" stroke-width="2.1" fill="#fff" stroke-miterlimit="10"/>
<rect x="124.70" y="499.11" width="9.80" height="9.80" stroke="#ff8000" stroke-width="2.1" fill="#fff" stroke-miterlimit="10"/>
<rect x="159.45" y="487.74" width="9.80" height="9.80" stroke="#ff8000" stroke-width="2.1" fill="#fff" stroke-miterlimit="10"/>
<rect x="194.20" y="495.61" width="9.80" height="9.80" stroke="#ff8000" stroke-width="2.1" fill="#fff" stroke-miterlimit="10"/>
<rect x="228.95" y="520.08" width="9.80" height="9.80" stroke="#ff8000" stroke-width="2.1" fill="#fff" stroke-miterlimit="10"/>
<rect x="263.70" y="552.42" width="9.80" height="9.80" stroke="#ff8000" stroke-width="2.1" fill="#fff" stroke-miterlimit="10"/>
<rect x="298.45" y="564.92" width="9.80" height="9.80" stroke="#ff8000" stroke-width="2.1" fill="#fff" stroke-miterlimit="10"/>
<rect x="333.20" y="580.74" width="9.80" height="9.80" stroke="#ff8000" stroke-width="2.1" fill="#fff" stroke-miterlimit="10"/>
<rect x="367.95" y="583.88" width="9.80" height="9.80" stroke="#ff8000" stroke-width="2.1" fill="#fff" stroke-miterlimit="10"/>
<rect x="402.70" y="600.05" width="9.80" height="9.80" stroke="#ff8000" stroke-width="2.1" fill="#fff" stroke-miterlimit="10"/>
<rect x="437.45" y="602.85" width="9.80" height="9.80" stroke="#ff8000" stroke-width="2.1" fill="#fff" stroke-miterlimit="10"/>
<rect x="472.20" y="601.28" width="9.80" height="9.80" stroke="#ff8000" stroke-width="2.1" fill="#fff" stroke-miterlimit="10"/>
<rect x="506.95" y="600.05" width="9.80" height="9.80" stroke="#ff8000" stroke-width="2.1" fill="#fff" stroke-miterlimit="10"/>
<rect x="541.70" y="604.42" width="9.80" height="9.80" stroke="#ff8000" stroke-width="2.1" fill="#fff" stroke-miterlimit="10"/>
<rect x="576.45" y="633.96" width="9.80" height="9.80" stroke="#ff8000" stroke-width="2.1" fill="#fff" stroke-miterlimit="10"/>
<rect x="611.20" y="641.31" width="9.80" height="9.80" stroke="#ff8000" stroke-width="2.1" fill="#fff" stroke-miterlimit="10"/>
<path d="M96.85 622.99L127.60 503.89M136.78 492.60L157.17 482.55M172.19 480.63L191.26 484.56M205.23 491.32L227.72 510.22M240.59 519.67L261.86 533.26M274.05 543.42L297.90 569.03M309.74 579.71L331.71 596.29M345.23 604.75L365.72 615.21M380.71 620.35L399.74 623.99M415.51 624.30L434.44 621.44M449.90 622.91L469.55 629.83M484.21 636.15L504.74 646.73M518.33 655.09L540.12 670.88M554.51 676.75L573.44 679.55M589.34 681.19L608.11 682.28" stroke="#ff0000" stroke-width="1.8" fill="none"/>
<circle cx="94.85" cy="630.74" r="5.4" stroke="#ff0000" stroke-width="2.1" fill="#fff" stroke-miterlimit="10"/>
<circle cx="129.60" cy="496.14" r="5.4" stroke="#ff0000" stroke-width="2.1" fill="#fff" stroke-miterlimit="10"/>
<circle cx="164.35" cy="479.01" r="5.4" stroke="#ff0000" stroke-width="2.1" fill="#fff" stroke-miterlimit="10"/>
<circle cx="199.10" cy="486.18" r="5.4" stroke="#ff0000" stroke-width="2.1" fill="#fff" stroke-miterlimit="10"/>
<circle cx="233.85" cy="515.37" r="5.4" stroke="#ff0000" stroke-width="2.1" fill="#fff" stroke-miterlimit="10"/>
<circle cx="268.60" cy="537.57" r="5.4" stroke="#ff0000" stroke-width="2.1" fill="#fff" stroke-miterlimit="10"/>
<circle cx="303.35" cy="574.89" r="5.4" stroke="#ff0000" stroke-width="2.1" fill="#fff" stroke-miterlimit="10"/>
<circle cx="338.10" cy="601.11" r="5.4" stroke="#ff0000" stroke-width="2.1" fill="#fff" stroke-miterlimit="10"/>
<circle cx="372.85" cy="618.85" r="5.4" stroke="#ff0000" stroke-width="2.1" fill="#fff" stroke-miterlimit="10"/>
<circle cx="407.60" cy="625.49" r="5.4" stroke="#ff0000" stroke-width="2.1" fill="#fff" stroke-miterlimit="10"/>
<circle cx="442.35" cy="620.25" r="5.4" stroke="#ff0000" stroke-width="2.1" fill="#fff" stroke-miterlimit="10"/>
<circle cx="477.10" cy="632.48" r="5.4" stroke="#ff0000" stroke-width="2.1" fill="#fff" stroke-miterlimit="10"/>
<circle cx="511.85" cy="650.40" r="5.4" stroke="#ff0000" stroke-width="2.1" fill="#fff" stroke-miterlimit="10"/>
<circle cx="546.60" cy="675.57" r="5.4" stroke="#ff0000" stroke-width="2.1" fill="#fff" stroke-miterlimit="10"/>
<circle cx="581.35" cy="680.73" r="5.4" stroke="#ff0000" stroke-width="2.1" fill="#fff" stroke-miterlimit="10"/>
<circle cx="616.10" cy="682.74" r="5.4" stroke="#ff0000" stroke-width="2.1" fill="#fff" stroke-miterlimit="10"/>
<rect x="401.40" y="454.20" width="205.30" height="63.00" rx="1.5" fill="#fff" stroke="#6e6e6e" stroke-width="1.6"/>
<path d="M418.80 469.20H429.70M444.70 469.20H455.60" stroke="#000000" stroke-width="1.8" fill="none"/>
<path d="M437.20 462.85L443.35 472.38L431.05 472.38Z" stroke="#000000" stroke-width="2.1" fill="#fff" stroke-miterlimit="10"/>
<text x="459.60" y="474.70" class="lg">MP</text>
<path d="M513.80 469.20H524.70M539.70 469.20H550.60" stroke="#0000ff" stroke-width="1.8" fill="none"/>
<path d="M525.85 469.20L535.38 463.05L535.38 475.35Z" stroke="#0000ff" stroke-width="2.1" fill="#fff" stroke-miterlimit="10"/>
<text x="554.60" y="474.70" class="lg">PMF</text>
<path d="M418.80 488.50H429.70M444.70 488.50H455.60" stroke="#8000ff" stroke-width="1.8" fill="none"/>
<path d="M437.20 482.70L442.22 485.60L442.22 491.40L437.20 494.30L432.18 491.40L432.18 485.60Z" stroke="#8000ff" stroke-width="2.1" fill="#fff" stroke-miterlimit="10"/>
<text x="459.60" y="494.00" class="lg">BPR</text>
<path d="M513.80 488.50H525.60M538.80 488.50H550.60" stroke="#00cc00" stroke-width="1.8" fill="none"/>
<path d="M532.20 482.00L538.70 488.50L532.20 495.00L525.70 488.50Z" stroke="#00cc00" stroke-width="2.1" fill="#fff" stroke-miterlimit="10"/>
<text x="554.60" y="494.00" class="lg">GBPR</text>
<path d="M418.80 507.80H429.70M444.70 507.80H455.60" stroke="#ff8000" stroke-width="1.8" fill="none"/>
<rect x="432.30" y="502.90" width="9.80" height="9.80" stroke="#ff8000" stroke-width="2.1" fill="#fff" stroke-miterlimit="10"/>
<text x="459.60" y="513.30" class="lg">VBPR</text>
<path d="M515.60 507.80H526.50M541.50 507.80H552.40" stroke="#ff0000" stroke-width="1.8" fill="none"/>
<circle cx="534.00" cy="507.80" r="5.4" stroke="#ff0000" stroke-width="2.1" fill="#fff" stroke-miterlimit="10"/>
<text x="556.40" y="513.30" class="lg">SPLR</text>
<text transform="translate(29 615.50) rotate(-90)" text-anchor="middle" class="yt"><tspan font-style="italic">F</tspan><tspan font-size="15" dy="9.3" dx="0.6">1</tspan><tspan dy="-9.3" dx="0.4">-score@5</tspan></text>
<g transform="translate(1.00 443.40)" fill="none" stroke="#000" stroke-linecap="round"><path d="M346.3 342.6C347.3 339.3 349.6 337.4 351.6 337.9C353.6 338.6 352.6 344 351.8 348.5C351 353 350.8 357.6 352.6 359C354.2 360.2 356.2 358.8 357.1 356.2" stroke-width="2.2"/><path d="M350.3 345.7L352.5 347.5L342.5 360.2C341.3 360.6 340 360.6 338.9 360.1Z" fill="#000" stroke="none"/><path d="M361.7 353.4L359.3 369.6" stroke-width="3.3" stroke-linecap="butt"/><path d="M361.8 358C363.5 354 365.8 352.4 368.6 352.6" stroke-width="2.3"/><circle cx="368.6" cy="353.6" r="1.3" fill="#000" stroke="none"/><path d="M359.8 353.6L362.5 352.7" stroke-width="1.4"/></g>
<text x="275.0" y="404.3" class="cap" font-size="21px">(</text><text x="281.7" y="403.2" class="cap" font-size="17px">a</text><text x="288.6" y="404.3" class="cap" font-size="21px">)</text><text x="303" y="403.2" class="cap" font-style="italic" font-size="17px" letter-spacing="0.9px">Jewelry</text>
<text x="275.4" y="848.4" class="cap" font-size="21px">(</text><text x="282.2" y="847.2" class="cap" font-size="17px">b</text><text x="291.6" y="848.4" class="cap" font-size="21px">)</text><text x="305.2" y="847.2" class="cap" font-style="italic" font-size="17px" letter-spacing="0.75px">Clothes</text>
<rect x="2.5" y="884.6" width="1.2" height="1.4" fill="#888"/>
<rect x="92.5" y="884.6" width="7.5" height="1.4" fill="#999"/>
<rect x="196" y="884.6" width="5.7" height="1.4" fill="#111"/>
<rect x="258" y="884.6" width="7" height="1.4" fill="#111"/>
<rect x="293.5" y="884.6" width="1.5" height="1.4" fill="#444"/>
<rect x="334.5" y="884.6" width="1.5" height="1.4" fill="#444"/>
<rect x="417.5" y="884.6" width="3" height="1.4" fill="#111"/>
<rect x="423" y="884.6" width="8.7" height="1.4" fill="#111"/>
<rect x="449.5" y="884.6" width="1.5" height="1.4" fill="#444"/>
<rect x="505.5" y="884.6" width="2" height="1.4" fill="#222"/>
<rect x="535.5" y="884.6" width="2.5" height="1.4" fill="#333"/>
<rect x="565" y="884.6" width="6.7" height="1.4" fill="#111"/>
<rect x="586.7" y="884.6" width="6.6" height="1.4" fill="#111"/>
<rect x="618.5" y="884.6" width="1.5" height="1.4" fill="#444"/>
</svg></body></html>
